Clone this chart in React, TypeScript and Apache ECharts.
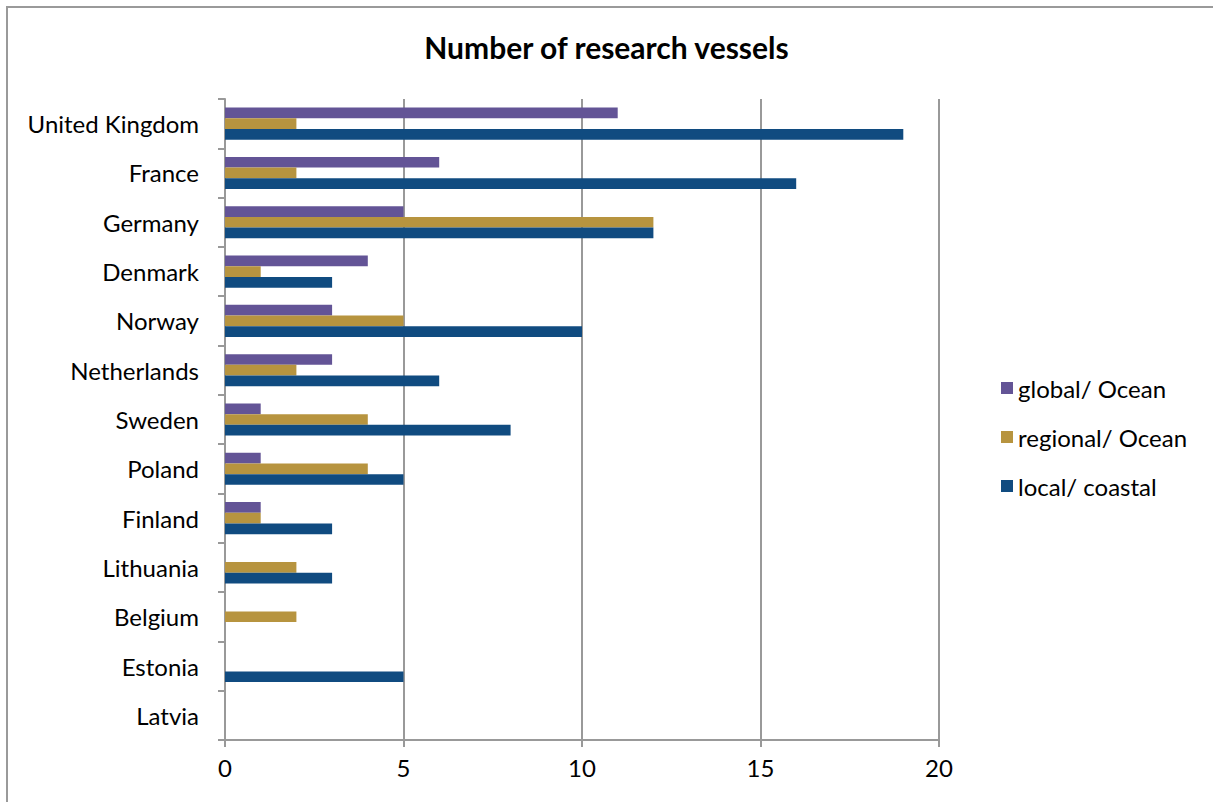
import React, { useEffect, useRef } from "react";
import * as echarts from "echarts";

const categories = [
  "United Kingdom", "France", "Germany", "Denmark", "Norway", "Netherlands",
  "Sweden", "Poland", "Finland", "Lithuania", "Belgium", "Estonia", "Latvia",
];
const globalOcean = [11, 6, 5, 4, 3, 3, 1, 1, 1, 0, 0, 0, 0];
const regionalOcean = [2, 2, 12, 1, 5, 2, 4, 4, 1, 2, 2, 0, 0];
const localCoastal = [19, 16, 12, 3, 10, 6, 8, 5, 3, 3, 0, 5, 0];
const seriesNames = ["global/ Ocean", "regional/ Ocean", "local/ coastal"];
const colors = ["#635496", "#B7943F", "#104B80"];

const FONT = "Lato";

export default function App() {
  const ref = useRef<HTMLDivElement>(null);
  useEffect(() => {
    if (!ref.current) return;
    const chart = echarts.init(ref.current, null, { renderer: "svg" });
    const data = [globalOcean, regionalOcean, localCoastal];
    chart.setOption({
      animation: false,
      backgroundColor: "#fff",
      textStyle: { fontFamily: FONT },
      title: {
        text: "Number of research vessels",
        left: "center",
        top: 27,
        textStyle: { fontFamily: FONT, fontSize: 30, fontWeight: "bold", color: "#000" },
      },
      graphic: [
        {
          type: "rect",
          shape: { x: 7, y: 7, width: 1230, height: 820 },
          style: { fill: "none", stroke: "#9a9a9a", lineWidth: 2 },
          silent: true,
        },
      ],
      legend: {
        orient: "vertical",
        left: 996,
        top: 371,
        itemWidth: 12,
        itemHeight: 12,
        itemGap: 25,
        icon: "rect",
        textStyle: { fontFamily: FONT, fontSize: 24, color: "#000" },
        data: seriesNames,
      },
      grid: { left: 225, right: 274, top: 99, bottom: 62 },
      xAxis: {
        type: "value",
        min: 0,
        max: 20,
        interval: 5,
        axisLine: { show: true, lineStyle: { color: "#999", width: 2 } },
        axisTick: { show: true, length: 7, lineStyle: { color: "#999", width: 2 } },
        axisLabel: { fontFamily: FONT, fontSize: 24, color: "#000", margin: 15 },
        splitLine: { show: true, lineStyle: { color: "#999", width: 2 } },
      },
      yAxis: {
        type: "category",
        inverse: true,
        data: categories,
        axisLine: { show: true, lineStyle: { color: "#999", width: 2 } },
        axisTick: { show: true, length: 7, lineStyle: { color: "#999", width: 2 } },
        axisLabel: { fontFamily: FONT, fontSize: 24, color: "#000", margin: 26 },
        splitLine: { show: false },
      },
      series: seriesNames.map((name, i) => ({
        name,
        type: "bar",
        data: data[i],
        barWidth: 10.7,
        barGap: "0%",
        itemStyle: { color: colors[i] },
      })),
    });
    return () => chart.dispose();
  }, []);
  return (
    <div
      ref={ref}
      style={{ position: "fixed", left: 0, top: 0, width: 1213, height: 802 }}
    />
  );
}
